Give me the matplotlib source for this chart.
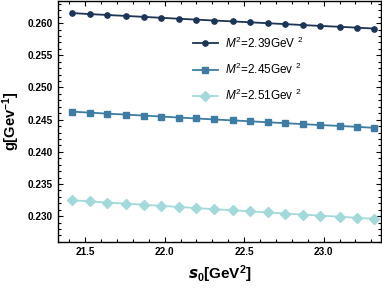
import numpy as np
import matplotlib
matplotlib.use("Agg")
import matplotlib.pyplot as plt
from matplotlib.ticker import MultipleLocator

plt.rcParams['font.family'] = ['Liberation Sans', 'DejaVu Sans']
plt.rcParams['mathtext.fontset'] = 'custom'
plt.rcParams['mathtext.rm'] = 'Liberation Sans'
plt.rcParams['mathtext.it'] = 'Liberation Sans:italic'
plt.rcParams['mathtext.bf'] = 'Liberation Sans:bold'

s0 = [21.42, 21.53, 21.64, 21.76, 21.87, 21.98, 22.09, 22.20, 22.31,
      22.43, 22.54, 22.65, 22.76, 22.87, 22.98, 23.10, 23.21, 23.32]

g_239 = [0.26155, 0.26140, 0.26126, 0.26111, 0.26097, 0.26082, 0.26068, 0.26054, 0.26040,
         0.26026, 0.26012, 0.25998, 0.25984, 0.25970, 0.25956, 0.25943, 0.25929, 0.25915]
g_245 = [0.24624, 0.24609, 0.24593, 0.24578, 0.24563, 0.24548, 0.24533, 0.24518, 0.24503,
         0.24488, 0.24474, 0.24459, 0.24445, 0.24430, 0.24416, 0.24402, 0.24388, 0.24372]
g_251 = [0.23248, 0.23230, 0.23212, 0.23195, 0.23177, 0.23160, 0.23143, 0.23126, 0.23109,
         0.23092, 0.23075, 0.23058, 0.23041, 0.23025, 0.23008, 0.22992, 0.22975, 0.22958]

labels = [r'$\mathit{M}^2$=2.39GeV $^2$', r'$\mathit{M}^2$=2.45Gev $^2$', r'$\mathit{M}^2$=2.51Gev $^2$']
colors = ['#1c3557', '#3f7ca4', '#a3d9da']
markers = ['o', 's', 'D']
sizes = [3.8, 4.8, 4.8]

fig = plt.figure(figsize=(3.82, 2.88), dpi=100)
ax = fig.add_axes([0.152, 0.16, 0.845, 0.838])

for y, lab, c, m, ms in zip([g_239, g_245, g_251], labels, colors, markers, sizes):
    ax.plot(s0, y, color=c, marker=m, markersize=ms, linewidth=1.3, label=lab)

ax.set_xlim(21.33, 23.36)
ax.set_ylim(0.226, 0.2635)
ax.xaxis.set_major_locator(MultipleLocator(0.5))
ax.xaxis.set_minor_locator(MultipleLocator(0.1))
ax.yaxis.set_major_locator(MultipleLocator(0.005))
ax.yaxis.set_minor_locator(MultipleLocator(0.001))
ax.xaxis.set_major_formatter(matplotlib.ticker.FormatStrFormatter('%.1f'))
ax.yaxis.set_major_formatter(matplotlib.ticker.FormatStrFormatter('%.3f'))
ax.tick_params(which='both', direction='in', top=True, right=True, width=0.8)
ax.tick_params(which='major', length=3.5, labelsize=7.2, pad=4)
ax.tick_params(which='minor', length=2)
for lbl in ax.get_xticklabels() + ax.get_yticklabels():
    lbl.set_fontweight('bold')
for sp in ax.spines.values():
    sp.set_linewidth(1.0)

ax.set_xlabel(r'$\mathbfit{s}_\mathbf{0}$[GeV$^\mathbf{2}$]', fontsize=11, fontweight='bold', labelpad=4)
ax.set_ylabel(r'g[Gev$^{\mathbf{-1}}$]', fontsize=10.5, fontweight='bold', labelpad=4)

ax.legend(loc='upper left', bbox_to_anchor=(0.385, 0.90), frameon=False, fontsize=8.5,
          handlelength=2.1, labelspacing=0.95, handletextpad=0.6)

fig.savefig('out.png', dpi=100)
